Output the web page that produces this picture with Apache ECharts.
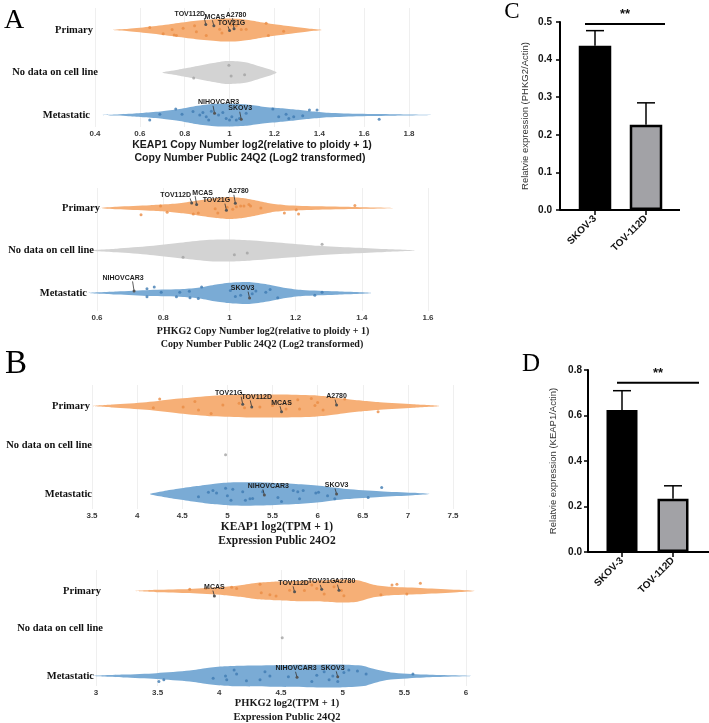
<!DOCTYPE html>
<html><head><meta charset="utf-8"><title>chart</title>
<script src="https://cdn.jsdelivr.net/npm/echarts@6.0.0/dist/echarts.min.js"></script>
<style>html,body{margin:0;padding:0;background:#fff;}#chart{width:709px;height:723px;}</style>
</head><body><div id="chart"></div>
<script>
// ================= DATA =================
const groups = ['Primary', 'No data on cell line', 'Metastatic'];

// ---- Panel A (top): KEAP1 copy number ----
const a1Ticks = [0.4, 0.6, 0.8, 1, 1.2, 1.4, 1.6, 1.8];
const a1DensityPrimary = [[0.48,0],[0.55,0.1],[0.65,0.3],[0.75,0.55],[0.85,0.8],[0.95,0.97],[1.0,1],[1.05,0.95],[1.12,0.75],[1.2,0.5],[1.28,0.3],[1.35,0.12],[1.41,0]];
const a1DensityNoData = [[0.70,0],[0.77,0.25],[0.84,0.5],[0.92,0.8],[0.99,1],[1.07,0.9],[1.14,0.5],[1.21,0]];
const a1DensityMetastatic = [[0.41,0],[0.5,0.05],[0.55,0.1],[0.62,0.2],[0.7,0.33],[0.77,0.5],[0.84,0.75],[0.92,0.95],[0.98,1],[1.07,0.93],[1.14,0.75],[1.22,0.6],[1.29,0.47],[1.36,0.33],[1.44,0.2],[1.58,0.1],[1.73,0.06],[1.9,0]];
const a1PointsPrimary = [[0.644,-0.06],[0.704,0.09],[0.744,-0.01],[0.753,0.12],[0.763,0.13],[0.793,-0.04],[0.844,-0.10],[0.852,0.04],[0.896,0.13],[0.956,-0.02],[0.966,0.07],[1.007,-0.12],[1.03,-0.10],[1.052,-0.01],[1.074,-0.02],[1.163,-0.16],[1.173,0.13],[1.241,0.03]];
const a1PointsNoData = [[0.84,0.13],[0.997,-0.17],[1.007,0.08],[1.067,0.05]];
const a1PointsMetastatic = [[0.644,0.12],[0.689,-0.02],[0.76,-0.14],[0.788,-0.02],[0.837,-0.08],[0.867,0],[0.881,-0.06],[0.896,0.04],[0.907,0.12],[0.919,-0.09],[0.951,0],[0.97,-0.06],[0.985,0.08],[1.0,0.12],[1.01,0.04],[1.03,0.12],[1.044,0.08],[1.074,-0.04],[1.193,-0.14],[1.219,0.04],[1.252,-0.02],[1.264,0.08],[1.286,0.04],[1.326,0.02],[1.356,-0.12],[1.39,-0.12],[1.667,0.1]];
const a1LabeledPrimary = [['TOV112D',0.894,-0.13],['MCAS',0.93,-0.1],['A2780',1.02,-0.03],['TOV21G',1.0,0.01]];
const a1LabeledMetastatic = [['NIHOVCAR3',0.933,-0.04],['SKOV3',1.052,0.1]];

// ---- Panel A (bottom): PHKG2 copy number ----
const a2Ticks = [0.6, 0.8, 1, 1.2, 1.4, 1.6];
const a2DensityPrimary = [[0.61,0],[0.66,0.12],[0.76,0.25],[0.81,0.33],[0.86,0.48],[0.91,0.7],[0.96,0.9],[1.0,1],[1.04,0.9],[1.085,0.65],[1.125,0.4],[1.17,0.26],[1.27,0.16],[1.37,0.1],[1.5,0]];
const a2DensityNoData = [[0.57,0],[0.66,0.17],[0.76,0.4],[0.86,0.73],[0.94,0.97],[1.0,1],[1.06,0.93],[1.17,0.67],[1.27,0.43],[1.37,0.27],[1.47,0.13],[1.56,0]];
const a2DensityMetastatic = [[0.57,0],[0.66,0.14],[0.76,0.28],[0.86,0.36],[0.91,0.5],[0.96,0.78],[1.01,0.96],[1.06,1],[1.115,0.78],[1.17,0.46],[1.22,0.28],[1.32,0.16],[1.43,0]];
const a2PointsPrimary = [[0.733,0.16],[0.792,-0.05],[0.812,0.10],[0.891,0.14],[0.906,0.12],[0.957,0.02],[0.965,0.12],[0.993,-0.02],[1.01,0.03],[1.021,-0.03],[1.034,-0.05],[1.044,-0.05],[1.059,-0.08],[1.064,-0.05],[1.095,0],[1.166,0.12],[1.202,0.04],[1.209,0.14],[1.379,-0.06]];
const a2PointsNoData = [[0.86,0.16],[1.015,0.10],[1.054,0.06],[1.28,-0.15]];
const a2PointsMetastatic = [[0.751,-0.10],[0.751,0.09],[0.773,-0.14],[0.794,-0.02],[0.84,0.09],[0.85,-0.02],[0.879,-0.04],[0.881,0.11],[0.906,0.13],[0.916,-0.14],[1.003,-0.06],[1.018,0.08],[1.034,0.05],[1.069,0.02],[1.08,-0.05],[1.11,-0.02],[1.123,-0.08],[1.146,0.11],[1.258,0.05],[1.28,-0.02]];
const a2LabeledPrimary = [['TOV112D',0.886,-0.12],['MCAS',0.901,-0.08],['A2780',1.018,-0.11],['TOV21G',0.991,0.05]];
const a2LabeledMetastatic = [['NIHOVCAR3',0.712,-0.05],['SKOV3',1.061,0.12]];

// ---- Panel B (top): KEAP1 expression ----
const b1Ticks = [3.5, 4, 4.5, 5, 5.5, 6, 6.5, 7, 7.5];
const b1DensityPrimary = [[3.51,0],[3.73,0.13],[4.1,0.33],[4.47,0.65],[4.84,0.9],[5.21,1],[5.58,1],[5.95,0.93],[6.13,0.8],[6.32,0.6],[6.5,0.45],[6.69,0.32],[7.06,0.15],[7.35,0]];
const b1DensityMetastatic = [[4.14,0],[4.29,0.25],[4.47,0.47],[4.66,0.69],[4.84,0.88],[5.03,1],[5.4,1],[5.76,0.88],[6.02,0.72],[6.32,0.44],[6.69,0.25],[7.06,0.1],[7.24,0]];
const b1PointsPrimary = [[4.25,-0.16],[4.18,0.04],[4.51,0.02],[4.64,-0.10],[4.68,0.09],[4.82,0.17],[4.95,-0.02],[5.13,-0.06],[5.19,0.04],[5.36,0.02],[5.5,-0.01],[5.65,0.07],[5.69,-0.08],[5.78,-0.14],[5.8,0.07],[5.93,-0.17],[5.97,-0.01],[6.0,-0.08],[6.06,0.09],[6.3,-0.16],[6.67,0.13]];
const b1PointsNoData = [[4.98,0.11]];
const b1PointsMetastatic = [[4.68,0.06],[4.79,-0.04],[4.84,-0.08],[4.88,-0.02],[4.98,-0.13],[5.0,0.04],[5.04,0.14],[5.06,-0.11],[5.17,-0.05],[5.2,0.14],[5.25,0.11],[5.28,0.1],[5.39,-0.05],[5.56,0.08],[5.6,0.17],[5.73,-0.08],[5.78,-0.05],[5.84,-0.08],[5.8,0.11],[5.98,-0.02],[6.01,-0.04],[6.11,0.04],[6.19,0.11],[6.71,-0.15],[6.56,0.08]];
const b1LabeledPrimary = [['TOV21G',5.17,-0.04],['TOV112D',5.27,0.02],['MCAS',5.6,0.13],['A2780',6.21,-0.02]];
const b1LabeledMetastatic = [['NIHOVCAR3',5.41,0.02],['SKOV3',6.21,0]];

// ---- Panel B (bottom): PHKG2 expression ----
const b2Ticks = [3, 3.5, 4, 4.5, 5, 5.5, 6];
const b2DensityPrimary = [[3.32,0],[3.49,0.1],[3.76,0.18],[4.04,0.36],[4.17,0.5],[4.31,0.72],[4.44,0.8],[4.58,0.86],[4.71,0.9],[4.85,0.93],[4.98,1],[5.12,0.93],[5.25,0.55],[5.39,0.36],[5.66,0.25],[5.93,0.1],[6.07,0]];
const b2DensityMetastatic = [[2.97,0],[3.22,0.12],[3.49,0.25],[3.76,0.47],[3.9,0.69],[4.04,0.84],[4.17,0.9],[4.44,0.94],[4.71,0.97],[4.98,1],[5.17,0.88],[5.25,0.62],[5.39,0.31],[5.66,0.12],[6.04,0]];
const b2PointsPrimary = [[3.76,-0.04],[3.89,-0.06],[4.1,-0.09],[4.14,-0.06],[4.33,-0.16],[4.34,0.04],[4.41,0.09],[4.46,0.12],[4.57,-0.02],[4.69,-0.01],[4.75,-0.14],[4.79,-0.06],[4.85,0.07],[4.93,-0.1],[4.99,-0.01],[5.01,0.11],[5.31,0.09],[5.4,-0.14],[5.44,-0.16],[5.52,0.07],[5.63,-0.18]];
const b2PointsNoData = [[4.51,0.10]];
const b2PointsMetastatic = [[3.51,0.13],[3.55,0.09],[3.95,0.05],[4.05,0],[4.06,0.09],[4.12,-0.14],[4.14,-0.05],[4.22,0.11],[4.33,0.09],[4.37,-0.10],[4.41,0],[4.56,0.02],[4.75,0.13],[4.79,-0.02],[4.85,-0.10],[4.89,0.09],[4.92,0],[4.96,0.13],[5.01,-0.08],[5.05,-0.14],[5.12,-0.12],[5.19,-0.05],[5.57,-0.05]];
const b2LabeledPrimary = [['MCAS',3.96,0.12],['TOV112D',4.61,0.02],['TOV21G',4.83,-0.04],['A2780',4.97,-0.02]];
const b2LabeledMetastatic = [['NIHOVCAR3',4.63,0.03],['SKOV3',4.96,0.02]];

// ---- Panels C / D: qPCR bars ----
const barCategories = ['SKOV-3', 'TOV-112D'];
const cTicks = [0, 0.1, 0.2, 0.3, 0.4, 0.5];
const cMeans = [0.437, 0.227];
const cErrors = [0.040, 0.058];
const dTicks = [0, 0.2, 0.4, 0.6, 0.8];
const dMeans = [0.624, 0.234];
const dErrors = [0.085, 0.057];
const significance = '**';

// ================= LAYOUT / STYLE =================
const SANS = '"Liberation Sans", Arial, sans-serif';
const SERIF = '"Liberation Serif", "Times New Roman", serif';
const fills = ['#f6af76', '#d3d3d3', '#7aabd5'];
const dots = ['#ea8c45', '#a2a2a2', '#3f7bb2'];

const violinPanels = [
  {ticks:a1Ticks, density:[a1DensityPrimary,a1DensityNoData,a1DensityMetastatic], points:[a1PointsPrimary,a1PointsNoData,a1PointsMetastatic], labeled:[a1LabeledPrimary,[],a1LabeledMetastatic]},
  {ticks:a2Ticks, density:[a2DensityPrimary,a2DensityNoData,a2DensityMetastatic], points:[a2PointsPrimary,a2PointsNoData,a2PointsMetastatic], labeled:[a2LabeledPrimary,[],a2LabeledMetastatic]},
  {ticks:b1Ticks, density:[b1DensityPrimary,null,b1DensityMetastatic], points:[b1PointsPrimary,b1PointsNoData,b1PointsMetastatic], labeled:[b1LabeledPrimary,[],b1LabeledMetastatic]},
  {ticks:b2Ticks, density:[b2DensityPrimary,null,b2DensityMetastatic], points:[b2PointsPrimary,b2PointsNoData,b2PointsMetastatic], labeled:[b2LabeledPrimary,[],b2LabeledMetastatic]}
];
const violinLayout = [
  {left:95, width:314, top:8, bottom:127, c0:30, spacing:42.5, labelRight:[93,98,90], catDy:[0,0,0], halfPx:11.5, tickFont:8,
   labelOffsets:{TOV112D:[-16,-10], MCAS:[1,-9], A2780:[2,-14], TOV21G:[2,-7.5], NIHOVCAR3:[4,-11], SKOV3:[-1,-11]}},
  {left:97, width:331, top:188, bottom:311, c0:208, spacing:42.5, labelRight:[100,94,87], catDy:[0,0,0], halfPx:11, tickFont:8,
   labelOffsets:{TOV112D:[-16,-8], MCAS:[6,-12], A2780:[3,-12], TOV21G:[-10,-10], NIHOVCAR3:[-11,-13], SKOV3:[-7,-10]}},
  {left:92, width:361, top:385, bottom:509, c0:406, spacing:44, labelRight:[90,92,92], catDy:[0,-5,0], halfPx:11.5, tickFont:8,
   labelOffsets:{TOV21G:[-14,-11], TOV112D:[5,-10], MCAS:[0,-9], A2780:[0,-9], NIHOVCAR3:[4,-9], SKOV3:[0,-9]}},
  {left:96, width:370, top:570, bottom:686, c0:591, spacing:42.5, labelRight:[101,103,94], catDy:[0,-5,0], halfPx:11.5, tickFont:8,
   labelOffsets:{MCAS:[0,-9], TOV112D:[-1,-9], TOV21G:[0,-8], A2780:[6,-9], NIHOVCAR3:[-1,-9], SKOV3:[-5,-9]}}
];

const grids = [], xAxes = [], yAxes = [], series = [];

violinPanels.forEach((P, i) => {
  const L = violinLayout[i];
  const t = P.ticks;
  const step = +(t[1] - t[0]).toFixed(6);
  grids.push({left:L.left, top:L.top, width:L.width, height:L.bottom - L.top});
  xAxes.push({type:'value', gridIndex:i, min:t[0], max:t[t.length-1], interval:step,
    axisLine:{show:false}, axisTick:{show:false},
    splitLine:{show:true, lineStyle:{color:'#efefef', width:1}},
    axisLabel:{margin:3, fontSize:L.tickFont, fontWeight:'bold', color:'#3a3a3a', fontFamily:SANS,
      showMinLabel:true, showMaxLabel:true,
      formatter:v => { const m = t.find(x => Math.abs(x - v) < 1e-6); return m === undefined ? '' : String(m); }}});
  yAxes.push({type:'value', gridIndex:i, inverse:true, show:false,
    min:-(L.c0 - L.top)/L.spacing, max:(L.bottom - L.c0)/L.spacing});
  const hw = L.halfPx / L.spacing;
  // violins
  P.density.forEach((prof, cat) => {
    if (!prof) return;
    series.push({type:'custom', xAxisIndex:i, yAxisIndex:i, silent:true, clip:false, z:1, data:[[prof[0][0], cat]],
      renderItem:(params, api) => {
        const top = prof.map(([v,d]) => api.coord([v, cat - d*hw]));
        const bot = prof.slice(1, -1).reverse().map(([v,d]) => api.coord([v, cat + d*hw]));
        return {type:'polygon', shape:{points:top.concat(bot), smooth:0.25}, style:{fill:fills[cat]}};
      }});
  });
  // jittered points
  P.points.forEach((pts, cat) => {
    series.push({type:'scatter', xAxisIndex:i, yAxisIndex:i, silent:true, z:3, symbolSize:3,
      itemStyle:{color:dots[cat], opacity:0.8},
      data:pts.map(([v,j]) => [v, cat + j])});
  });
  // labelled cell lines
  P.labeled.forEach((labs, cat) => {
    if (!labs.length) return;
    series.push({type:'custom', xAxisIndex:i, yAxisIndex:i, silent:true, clip:false, z:5,
      data:labs.map(([n,v,j]) => [v, cat + j]),
      renderItem:(params, api) => {
        const pt = api.coord([api.value(0), api.value(1)]);
        const name = labs[params.dataIndex][0];
        const off = L.labelOffsets[name] || [0,-9];
        const lx = pt[0] + off[0], ly = pt[1] + off[1];
        return {type:'group', children:[
          {type:'line', shape:{x1:pt[0]-1.5, y1:ly+3.5, x2:pt[0], y2:pt[1]}, style:{stroke:'#333', lineWidth:0.8}},
          {type:'circle', shape:{cx:pt[0], cy:pt[1], r:1.5}, style:{fill:'#555'}},
          {type:'text', x:lx, y:ly, style:{text:name, fill:'#1e1e1e', font:'bold 7px ' + SANS, align:'center', verticalAlign:'middle'}}
        ]};
      }});
  });
  // category labels
  series.push({type:'custom', xAxisIndex:i, yAxisIndex:i, silent:true, clip:false, z:6, data:[[t[0],0],[t[0],1],[t[0],2]],
    renderItem:(params, api) => {
      const c = params.dataIndex;
      const y = api.coord([t[0], c])[1] + L.catDy[c];
      return {type:'text', x:L.labelRight[c], y:y, style:{text:groups[c], fill:'#111', font:'bold 10.5px ' + SERIF, align:'right', verticalAlign:'middle'}};
    }});
});

// ---- bar panels ----
const barPanels = [
  {ticks:cTicks, means:cMeans, errors:cErrors, name:'Relatvie expression (PHKG2/Actin)',
   left:569.5, width:102, top:22, height:188, offset:9.5, barWidth:32.5, sigDx:[-10,19], sigY:0.495, nameGap:30, labelMargin:8},
  {ticks:dTicks, means:dMeans, errors:dErrors, name:'Relatvie expression (KEAP1/Actin)',
   left:596.5, width:102, top:370, height:182, offset:8.5, barWidth:31, sigDx:[-5,26], sigY:0.744, nameGap:30, labelMargin:6}
];
const barFills = ['#000000', '#a2a2a6'];
barPanels.forEach((B, k) => {
  const gi = 4 + k;
  const t = B.ticks;
  grids.push({left:B.left, top:B.top, width:B.width, height:B.height});
  xAxes.push({type:'category', gridIndex:gi, data:barCategories,
    axisLine:{show:true, lineStyle:{color:'#000', width:2}},
    axisTick:{show:true, alignWithLabel:true, length:5, lineStyle:{color:'#000', width:1.5}},
    axisLabel:{rotate:45, margin:7, fontSize:10, fontWeight:'bold', color:'#111', fontFamily:SANS}});
  yAxes.push({type:'value', gridIndex:gi, min:t[0], max:t[t.length-1], interval:+(t[1]-t[0]).toFixed(6), offset:B.offset,
    name:B.name, nameLocation:'middle', nameGap:B.nameGap, nameRotate:90,
    nameTextStyle:{fontSize:9.5, color:'#333', fontFamily:SANS},
    axisLine:{show:true, lineStyle:{color:'#000', width:2}},
    axisTick:{show:true, length:4, lineStyle:{color:'#000', width:1.5}},
    splitLine:{show:false},
    axisLabel:{margin:B.labelMargin, fontSize:10, fontWeight:'bold', color:'#111', fontFamily:SANS, formatter:v => v.toFixed(1)}});
  series.push({type:'bar', xAxisIndex:gi, yAxisIndex:gi, barWidth:B.barWidth, silent:true, z:2,
    itemStyle:{borderColor:'#000', borderWidth:2.5},
    data:B.means.map((m, i) => ({value:m, itemStyle:{color:barFills[i]}}))});
  series.push({type:'custom', xAxisIndex:gi, yAxisIndex:gi, silent:true, z:3,
    data:B.means.map((m, i) => [i, m, B.errors[i]]),
    renderItem:(params, api) => {
      const x = api.value(0), m = api.value(1), s = api.value(2);
      const b = api.coord([x, m]), tp = api.coord([x, m + s]);
      return {type:'group', children:[
        {type:'line', shape:{x1:b[0], y1:b[1], x2:tp[0], y2:tp[1]}, style:{stroke:'#000', lineWidth:1.5}},
        {type:'line', shape:{x1:tp[0]-9, y1:tp[1], x2:tp[0]+9, y2:tp[1]}, style:{stroke:'#000', lineWidth:1.5}}
      ]};
    }});
  series.push({type:'custom', xAxisIndex:gi, yAxisIndex:gi, silent:true, clip:false, z:4, data:[[0, B.sigY]],
    renderItem:(params, api) => {
      const p0 = api.coord([0, B.sigY]), p1 = api.coord([1, B.sigY]);
      const x0 = p0[0] + B.sigDx[0], x1 = p1[0] + B.sigDx[1];
      return {type:'group', children:[
        {type:'line', shape:{x1:x0, y1:p0[1], x2:x1, y2:p0[1]}, style:{stroke:'#000', lineWidth:2}},
        {type:'text', x:(x0 + x1)/2, y:p0[1] - 9, style:{text:significance, fill:'#111', font:'bold 13px ' + SANS, align:'center', verticalAlign:'middle'}}
      ]};
    }});
});

// ---- texts: panel letters, axis titles, axis line extensions ----
function txt(s, x, y, font, fill) {
  return {type:'text', x:x, y:y, silent:true, style:{text:s, font:font, fill:fill || '#111', align:'center', verticalAlign:'middle'}};
}
const graphics = [
  txt('A', 14, 21, '28px ' + SERIF, '#000'),
  txt('B', 16, 364, '33px ' + SERIF, '#000'),
  txt('C', 512, 12, '23px ' + SERIF, '#000'),
  txt('D', 531, 364, '25px ' + SERIF, '#000'),
  txt('KEAP1 Copy Number log2(relative to ploidy + 1)', 252, 145, 'bold 10.5px ' + SANS, '#1a1a1a'),
  txt('Copy Number Public 24Q2 (Log2 transformed)', 250, 158, 'bold 10.5px ' + SANS, '#1a1a1a'),
  txt('PHKG2 Copy Number log2(relative to ploidy + 1)', 263, 331, 'bold 10px ' + SERIF, '#1a1a1a'),
  txt('Copy Number Public 24Q2 (Log2 transformed)', 262, 344, 'bold 10px ' + SERIF, '#1a1a1a'),
  txt('KEAP1 log2(TPM + 1)', 277, 527, 'bold 11.5px ' + SERIF, '#1a1a1a'),
  txt('Expression Public 24O2', 277, 541, 'bold 11.5px ' + SERIF, '#1a1a1a'),
  txt('PHKG2 log2(TPM + 1)', 287, 703, 'bold 10.5px ' + SERIF, '#1a1a1a'),
  txt('Expression Public 24Q2', 287, 717, 'bold 10.5px ' + SERIF, '#1a1a1a'),
  {type:'line', silent:true, shape:{x1:560, y1:210, x2:680, y2:210}, style:{stroke:'#000', lineWidth:2}},
  {type:'line', silent:true, shape:{x1:588, y1:552, x2:709, y2:552}, style:{stroke:'#000', lineWidth:2}}
];

const chart = echarts.init(document.getElementById('chart'), null, {renderer:'canvas'});
chart.setOption({
  animation:false,
  backgroundColor:'#ffffff',
  grid:grids, xAxis:xAxes, yAxis:yAxes, series:series, graphic:graphics
});
</script></body></html>
